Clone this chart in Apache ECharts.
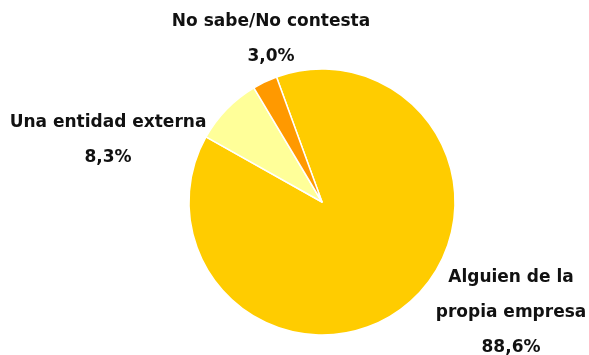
<!DOCTYPE html>
<html>
<head>
<meta charset="utf-8">
<script src="https://cdn.jsdelivr.net/npm/echarts@6/dist/echarts.min.js"></script>
<style>
  html, body { margin: 0; padding: 0; background: #ffffff; }
  #chart { width: 589px; height: 355px; }
</style>
</head>
<body>
<div id="chart"></div>
<script>
// datos del gráfico
var categories = ["Alguien de la\npropia empresa", "Una entidad externa", "No sabe/No contesta"];
var values = [88.6, 8.3, 3.0];
var sliceColors = ["#FFCC00", "#FFFF99", "#FF9900"];

// posición de cada etiqueta (centro del bloque de texto)
var labelPos = [
  [511, 313],
  [108, 140],
  [271, 39]
];

var chart = echarts.init(document.getElementById("chart"));

var pieData = categories.map(function (name, i) {
  return {
    name: name,
    value: values[i],
    itemStyle: { color: sliceColors[i] }
  };
});

var option = {
  animation: false,
  backgroundColor: "#ffffff",
  series: [
    {
      type: "pie",
      center: [322, 202],
      radius: 133,
      startAngle: 110,
      clockwise: true,
      itemStyle: {
        borderColor: "#ffffff",
        borderWidth: 1.5
      },
      label: {
        show: true,
        position: "outside",
        overflow: "none",
        fontFamily: "DejaVu Sans",
        fontWeight: "bold",
        fontSize: 17,
        lineHeight: 35,
        color: "#111111",
        align: "center",
        formatter: function (p) {
          return p.name + "\n" + p.value.toFixed(1).replace(".", ",") + "%";
        }
      },
      labelLine: { show: false },
      labelLayout: function (params) {
        var pos = labelPos[params.dataIndex];
        return {
          x: pos[0],
          y: pos[1],
          align: "center",
          verticalAlign: "middle"
        };
      },
      data: pieData
    }
  ]
};

chart.setOption(option);
window.addEventListener("resize", function () {
  chart.resize();
});
</script>
</body>
</html>
